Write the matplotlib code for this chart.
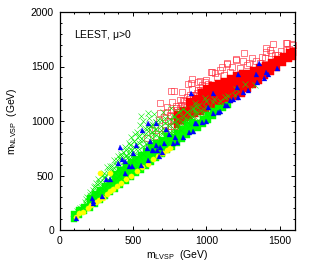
import matplotlib
matplotlib.use('Agg')
import matplotlib.pyplot as plt
from matplotlib.ticker import MultipleLocator

plt.rcParams['font.family'] = ['Liberation Sans', 'DejaVu Sans']
plt.rcParams['mathtext.fontset'] = 'custom'
plt.rcParams['mathtext.rm'] = 'Liberation Sans'
plt.rcParams['mathtext.it'] = 'Liberation Sans'

# dense part of the red band
red_core_x = [800, 800, 800, 840, 840, 840, 880, 880, 880, 880, 920, 920, 920, 920,
              960, 960, 960, 960, 960, 1000, 1000, 1000, 1000, 1000,
              1040, 1040, 1040, 1040, 1040, 1080, 1080, 1080, 1080, 1080,
              1120, 1120, 1120, 1120, 1120, 1160, 1160, 1160, 1160, 1160,
              1200, 1200, 1200, 1200, 1200, 1240, 1240, 1240, 1240, 1240,
              1280, 1280, 1280, 1280, 1320, 1320, 1320, 1320,
              1360, 1360, 1360, 1360, 1400, 1400, 1400, 1440, 1440, 1440,
              1480, 1480, 1480, 1520, 1520, 1520, 1560, 1560, 1560, 1590, 1590, 1590]
red_core_y = [960, 1010, 1060, 1000, 1050, 1100, 1030, 1080, 1130, 1180, 1060, 1110, 1160, 1210,
              1080, 1130, 1180, 1230, 1270, 1100, 1150, 1200, 1250, 1300,
              1130, 1180, 1230, 1280, 1330, 1150, 1200, 1250, 1300, 1350,
              1170, 1220, 1270, 1320, 1370, 1190, 1240, 1290, 1340, 1390,
              1220, 1270, 1320, 1370, 1420, 1250, 1300, 1350, 1400, 1440,
              1290, 1340, 1390, 1440, 1330, 1380, 1430, 1470,
              1370, 1420, 1470, 1500, 1410, 1460, 1510, 1450, 1500, 1545,
              1490, 1540, 1570, 1530, 1570, 1600, 1565, 1600, 1630, 1590, 1620, 1640]

# open squares above the band
red_x = [901, 874, 956, 997, 1038, 1058, 1092, 1106, 1140, 1174, 1201, 1256, 1249, 1311, 1276,
         1406, 1433, 1454, 1399, 1488, 1549, 1542, 1583, 1583, 1522, 1365, 833, 887, 956, 990, 840,
         683, 758, 778, 765, 730, 683, 894, 942, 1031, 1140, 1201, 1543, 1590, 1406, 1440,
         594, 628, 751, 799, 867, 935, 610, 640, 660, 700, 720, 740, 770, 790, 810, 830, 860,
         650, 680, 710, 735, 760, 780, 820, 850, 900, 930, 970, 1010, 1070, 1120, 1160, 1230,
         1290, 1340, 1380, 1470, 1510, 1560,
         700, 720, 740, 760, 780, 800, 810, 830, 850, 870, 760, 790, 820, 850, 880, 910, 940, 860, 900, 925]
red_y = [1385, 1339, 1367, 1376, 1450, 1440, 1468, 1495, 1523, 1495, 1560, 1624, 1550, 1578, 1514,
         1633, 1651, 1706, 1578, 1605, 1715, 1651, 1706, 1633, 1587, 1532, 1266, 1238, 1284, 1358, 1193,
         1165, 1275, 1275, 1174, 1128, 1073, 1349, 1358, 1450, 1532, 1569, 1715, 1697, 1670, 1624,
         844, 917, 1055, 1101, 1220, 1257, 760, 800, 860, 820, 960, 900, 1000, 1120, 1040, 1150, 1090,
         940, 1010, 1040, 1080, 1100, 950, 1190, 1150, 1290, 1240, 1330, 1340, 1400, 1420, 1450, 1490,
         1530, 1550, 1590, 1610, 1640, 1660,
         880, 920, 1000, 950, 1020, 900, 1080, 1000, 1040, 1100, 1050, 1140, 1120, 1180, 1200, 1240, 1280, 960, 1010, 1160]

# solid green along the diagonal
green_core_x = [100, 100, 135, 135, 170, 170, 205, 205, 205, 240, 240, 240, 275, 275, 275, 310, 310, 310,
                345, 345, 345, 380, 380, 380, 380, 415, 415, 415, 415, 450, 450, 450, 450,
                485, 485, 485, 485, 520, 520, 520, 520, 555, 555, 555, 555, 590, 590, 590, 590,
                625, 625, 625, 625, 660, 660, 660, 660, 695, 695, 695, 695, 730, 730, 730, 730,
                765, 765, 765, 800, 800, 800, 835, 835, 835, 870, 870, 870, 905, 905, 905,
                940, 940, 975, 975, 1010, 1010, 1045, 1045, 1080, 1080, 1115, 1150]
green_core_y = [105, 150, 135, 180, 170, 215, 205, 250, 290, 240, 285, 330, 275, 320, 365, 310, 355, 400,
                345, 390, 435, 380, 425, 470, 510, 415, 460, 505, 550, 450, 495, 540, 585,
                485, 530, 575, 620, 520, 565, 610, 655, 555, 600, 645, 690, 590, 635, 680, 725,
                625, 670, 715, 760, 660, 705, 750, 795, 695, 740, 785, 830, 730, 775, 820, 865,
                765, 810, 855, 800, 845, 890, 835, 880, 925, 870, 915, 960, 905, 950, 995,
                940, 985, 975, 1020, 1010, 1055, 1045, 1090, 1080, 1120, 1115, 1150]

# crosses above the solid green
green_x = [102, 120, 140, 155, 175, 190, 205, 225, 235, 250, 262, 275, 290, 300, 310, 320, 335, 345, 355,
           372, 385, 395, 410, 420, 430, 445, 455, 470, 480, 490, 505, 515, 530, 545, 558, 600, 570, 585,
           610, 625, 640, 655, 670, 690, 705, 720, 740, 760, 780, 800, 820, 850, 880, 910, 950, 1000, 1050,
           230, 260, 285, 330, 360, 375, 400, 435, 460, 495, 525, 550, 575, 600, 635, 650, 680, 715, 750,
           775, 810, 845, 870, 900, 930, 970, 1020, 1090, 1150, 540, 520, 480, 440, 395, 620, 665, 700, 735,
           770, 830, 890, 940, 990, 1040, 1100, 1200, 1260, 610, 590, 510, 470, 425, 350, 300, 250,
           150, 180, 180, 210, 210, 240, 240, 240, 270, 270, 270, 300, 300, 300, 330, 330, 330,
           360, 360, 360, 360, 390, 390, 390, 390, 420, 420, 420, 420, 450, 450, 450, 450,
           480, 480, 480, 480, 510, 510, 510, 510, 540, 540, 540, 540, 570, 570, 570, 570,
           600, 600, 600, 600, 630, 630, 630, 630, 660, 660, 660, 660, 690, 690, 690, 690,
           720, 720, 720, 750, 750, 750, 780, 780, 780, 810, 810, 810, 840, 840, 840,
           870, 870, 900, 900, 930, 930, 960, 1000,
           921, 990, 1126, 1194, 1331, 1044, 867, 921]
green_y = [138, 170, 205, 210, 260, 300, 350, 365, 390, 430, 470, 440, 500, 520, 490, 578, 540, 590, 510,
           640, 600, 680, 650, 700, 720, 760, 690, 800, 740, 850, 820, 880, 900, 960, 1046, 1073, 1000, 940,
           1030, 950, 1060, 990, 1010, 920, 1080, 1030, 960, 1120, 1040, 980, 1090, 1010, 1060, 1120, 1150, 1180, 1200,
           310, 350, 390, 440, 460, 530, 560, 620, 660, 730, 780, 830, 870, 910, 880, 930, 850, 910, 880,
           900, 940, 980, 1000, 1030, 1060, 1070, 1120, 1180, 1230, 860, 740, 690, 590, 500, 820, 780, 800, 800,
           840, 920, 960, 1010, 1070, 1100, 1150, 1290, 1340, 960, 790, 680, 610, 540, 420, 370, 330,
           190, 240, 280, 270, 320, 300, 350, 400, 330, 380, 430, 390, 440, 490, 420, 470, 520,
           450, 500, 550, 590, 480, 540, 600, 640, 520, 580, 640, 680, 560, 620, 680, 730,
           600, 660, 720, 780, 640, 700, 760, 820, 680, 740, 800, 860, 700, 770, 830, 900,
           740, 800, 870, 940, 770, 840, 900, 970, 800, 870, 930, 990, 830, 890, 950, 1010,
           860, 920, 980, 900, 960, 1020, 930, 990, 1050, 960, 1020, 1080, 990, 1050, 1110,
           1020, 1080, 1050, 1110, 1080, 1140, 1100, 1130,
           1165, 1211, 1220, 1238, 1330, 1174, 1083, 1100]

yellow_x = [112, 136, 160, 191, 215, 250, 270, 295, 320, 345, 364, 390, 420, 455, 490, 530, 565, 600, 637, 670, 705, 730, 750, 273, 341]
yellow_y = [118, 156, 165, 201, 225, 255, 272, 290, 330, 355, 375, 400, 430, 472, 500, 538, 575, 602, 648, 680, 710, 738, 755, 523, 523]

blue_x = [109, 218, 287, 314, 341, 444, 396, 410, 423, 444, 471, 491, 498, 519, 553, 600, 594, 628, 655, 662, 676, 614,
          600, 655, 560, 724, 744, 785, 710, 683, 696, 635, 799, 840, 771, 881, 908, 928, 894,
          1044, 1010, 1044, 1079, 1126, 1160, 1208, 1215, 1358, 1338, 1345, 1406, 1420, 1481, 1392, 1283, 1249, 1215,
          921, 969, 997, 1092, 1140, 1181, 230, 225]
blue_y = [110, 293, 312, 468, 468, 523, 615, 761, 651, 633, 587, 587, 706, 780, 596, 642, 752, 734, 780, 734, 679, 816,
          982, 982, 917, 927, 880, 853, 798, 761, 716, 734, 807, 853, 798, 899, 908, 982, 1257,
          1257, 1128, 1073, 1083, 1147, 1193, 1312, 1431, 1532, 1431, 1358, 1450, 1431, 1486, 1394, 1284, 1266, 1220,
          982, 991, 1000, 1092, 1147, 1202, 270, 250]

fig, ax = plt.subplots(figsize=(3.12, 2.62), dpi=100)
fig.subplots_adjust(left=59.5 / 312, right=294.5 / 312, bottom=1 - 230 / 262, top=1 - 12 / 262)

ax.plot(red_x, red_y, ls='none', marker='s', ms=4.2, mfc='none', mec='#ff3040', mew=0.45, clip_on=False)
ax.plot(red_core_x, red_core_y, ls='none', marker='s', ms=4.6, mfc='#ff0000', mec='#ff0000', mew=0.3, clip_on=False)
ax.plot(green_core_x, green_core_y, ls='none', marker='s', ms=4.0, mfc='#00ff00', mec='#00ff00', mew=0.3)
ax.plot(green_x, green_y, ls='none', marker='x', ms=3.8, mec='#00f000', mew=0.4)
ax.plot(yellow_x, yellow_y, ls='none', marker='o', ms=3.8, mfc='#ffff00', mec='#ffff00', mew=0.2)
ax.plot(blue_x, blue_y, ls='none', marker='^', ms=3.6, mfc='#0000ff', mec='#0000ff', mew=0.2)

ax.set_xlim(0, 1600)
ax.set_ylim(0, 2000)
ax.xaxis.set_major_locator(MultipleLocator(500))
ax.xaxis.set_minor_locator(MultipleLocator(100))
ax.yaxis.set_major_locator(MultipleLocator(500))
ax.yaxis.set_minor_locator(MultipleLocator(100))
ax.tick_params(which='major', direction='in', top=True, right=True, length=3.2, width=0.7, labelsize=7.5, pad=4)
ax.tick_params(which='minor', direction='in', top=True, right=True, length=1.6, width=0.7)
for s in ax.spines.values():
    s.set_linewidth(0.9)

ax.text(100, 1790, 'LEEST, $\\mu$>0', fontsize=7.5, va='center')
fig.text(177 / 312, 1 - 255 / 262, '$\\mathrm{m_{LVSP}}$  (GeV)', fontsize=7.5, ha='center', va='center')
fig.text(12 / 312, 1 - 121 / 262, '$\\mathrm{m_{NLVSP}}$  (GeV)', fontsize=7.5, ha='center', va='center', rotation=90)

fig.savefig('out.png', dpi=100)
